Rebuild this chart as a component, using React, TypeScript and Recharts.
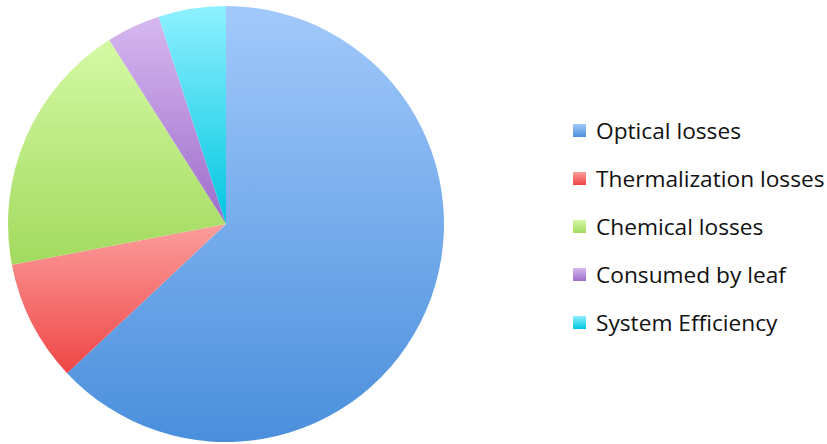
import React from 'react';
import { PieChart, Pie, Cell } from 'recharts';

// Share of incoming solar energy (%)
const categories = [
  'Optical losses',
  'Thermalization losses',
  'Chemical losses',
  'Consumed by leaf',
  'System Efficiency',
];
const shares = [63, 9, 19, 4, 5];

// top / bottom gradient stops for each slice
const topColors = ['#a2c9fb', '#fb9e9c', '#d4f9a4', '#d6b8ef', '#8ef0ff'];
const bottomColors = ['#4a8fdc', '#f04646', '#a2da5e', '#9e6ccb', '#00c6e0'];
const swatchColors = ['#5b9be6', '#f56a68', '#b6e57c', '#b58ddd', '#33d6ee'];

const data = categories.map((name, i) => ({ name, value: shares[i] }));

const LegendList = () => (
  <div
    style={{
      position: 'absolute',
      left: 573,
      top: 106,
      fontFamily: '"Open Sans", sans-serif',
      fontSize: 22.7,
      color: '#111',
    }}
  >
    {categories.map((name, i) => (
      <div
        key={name}
        style={{ display: 'flex', alignItems: 'center', height: 48, whiteSpace: 'nowrap' }}
      >
        <span
          style={{
            display: 'inline-block',
            width: 13,
            height: 13,
            marginRight: 10,
            background: `linear-gradient(${topColors[i]}, ${bottomColors[i]})`,
            backgroundColor: swatchColors[i],
          }}
        />
        <span>{name}</span>
      </div>
    ))}
  </div>
);

export default function App() {
  return (
    <div style={{ position: 'absolute', left: 0, top: 0, width: 827, height: 444, background: '#fff', overflow: 'hidden' }}>
      <PieChart width={827} height={444} margin={{ top: 0, right: 0, bottom: 0, left: 0 }}>
        <defs>
          {categories.map((name, i) => (
            <linearGradient key={name} id={`grad${i}`} x1="0" y1="0" x2="0" y2="1">
              <stop offset="0%" stopColor={topColors[i]} />
              <stop offset="100%" stopColor={bottomColors[i]} />
            </linearGradient>
          ))}
        </defs>
        <Pie
          data={data}
          dataKey="value"
          nameKey="name"
          cx={226}
          cy={224}
          outerRadius={218}
          startAngle={90}
          endAngle={-270}
          stroke="none"
          isAnimationActive={false}
        >
          {data.map((d, i) => (
            <Cell key={d.name} fill={`url(#grad${i})`} />
          ))}
        </Pie>
      </PieChart>
      <LegendList />
    </div>
  );
}
